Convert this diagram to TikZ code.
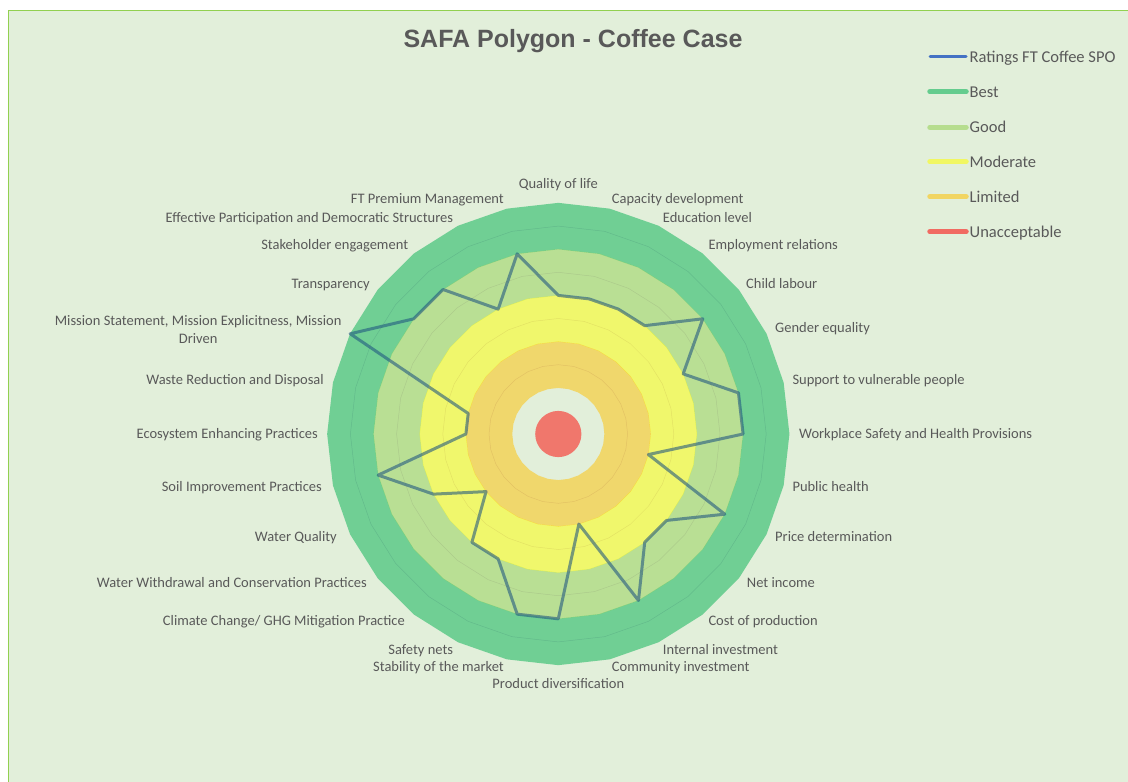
\documentclass[tikz,border=0pt]{standalone}
\usepackage{fontspec}
\setmainfont{Carlito}
\newfontfamily\titlefont{Liberation Sans}
\definecolor{bgc}{HTML}{E2EFDA}
\definecolor{framec}{HTML}{92D050}
\definecolor{txt}{HTML}{595959}
\definecolor{cBest}{HTML}{00B050}
\definecolor{cGood}{HTML}{92D050}
\definecolor{cMod}{HTML}{FFFF00}
\definecolor{cLim}{HTML}{FFC000}
\definecolor{cUnac}{HTML}{FF0000}
\definecolor{cRate}{HTML}{4472C4}
\definecolor{cLine}{HTML}{1F5580}
\tikzset{
  lbl/.style={font=\fontsize{14.5}{18}\selectfont, text=txt, inner sep=0pt},
  lblr/.style={lbl, anchor=base west},
  lbll/.style={lbl, anchor=base east},
  lblc/.style={lbl, anchor=base},
  leglbl/.style={font=\fontsize{16.5}{20}\selectfont, text=txt, inner sep=0pt, anchor=base west},
  band/.style={line width=46.2pt, opacity=0.5, line join=miter},
  gridl/.style={draw=black!22, line width=0.5pt},
  dataline/.style={draw=cLine, line width=3pt, opacity=0.58, line join=round},
  legline/.style={line width=5.5pt, line cap=round, opacity=0.55},
}
\begin{document}
\begin{tikzpicture}[x=1pt,y=-1pt]
\useasboundingbox (0,0) rectangle (1128,782);
\fill[white] (0,0) rectangle (1128,782);
\fill[bgc] (8.5,10.5) rectangle (1140,790);
\draw[framec, line width=1.6pt] (8.5,790) -- (8.5,10.5) -- (1140,10.5);
\def\cx{558.3}
\def\cy{434}
\def\u{46.2}
% grid
\foreach \r in {1.5,2.5,3.5,4.5}{
  \draw[gridl] ({\cx},{\cy-\r*\u}) \foreach \i in {1,...,27}{ -- ({\cx+\r*\u*sin(\i*360/28)},{\cy-\r*\u*cos(\i*360/28)}) } -- cycle;
}
% bands
\foreach \r/\c in {4.5/cBest,3.5/cGood,2.5/cMod,1.5/cLim}{
  \draw[band, draw=\c] ({\cx},{\cy-\r*\u}) \foreach \i in {1,...,27}{ -- ({\cx+\r*\u*sin(\i*360/28)},{\cy-\r*\u*cos(\i*360/28)}) } -- cycle;
}
\fill[cUnac, opacity=0.5] (\cx,\cy) circle (23.1);
% data
\foreach \v [count=\i from 0] in {3,3,3,3,4,3,4,4,2,4,3,3,4,2,4,4,3,3,2,3,4,2,2,5,4,4,3,4}{
  \coordinate (d\i) at ({\cx+\v*\u*sin(\i*360/28)},{\cy-\v*\u*cos(\i*360/28)});
}
\draw[dataline] (d0) \foreach \i in {1,...,27}{ -- (d\i) } -- cycle;
% title
\node[font=\titlefont\bfseries\fontsize{25}{30}\selectfont, text=txt, anchor=base] (title) at (573,47) {SAFA Polygon - Coffee Case};
% labels
\node[lblc] (l0) at (558.3,188) {Quality of life};
\node[lblr] (l1) at (611.7,203.3) {Capacity development};
\node[lblr] (l2) at (662.7,222.3) {Education level};
\node[lblr] (l3) at (708.3,249.3) {Employment relations};
\node[lblr] (l4) at (746,288.3) {Child labour};
\node[lblr] (l5) at (775,332.3) {Gender equality};
\node[lblr] (l6) at (792.3,384.3) {Support to vulnerable people};
\node[lblr] (l7) at (799,438) {Workplace Safety and Health Provisions};
\node[lblr] (l8) at (792.3,491.7) {Public health};
\node[lblr] (l9) at (775,541.7) {Price determination};
\node[lblr] (l10) at (746.7,587.7) {Net income};
\node[lblr] (l11) at (708.3,625.7) {Cost of production};
\node[lblr] (l12) at (662.7,654) {Internal investment};
\node[lblr] (l13) at (611.7,671.7) {Community investment};
\node[lblc] (l14) at (558.3,688) {Product diversification};
\node[lbll] (l15) at (504,671.7) {Stability of the market};
\node[lbll] (l16) at (453.3,654) {Safety nets};
\node[lbll] (l17) at (405,625.7) {Climate Change/ GHG Mitigation Practice};
\node[lbll] (l18) at (367,587.7) {Water Withdrawal and Conservation Practices};
\node[lbll] (l19) at (337,541.7) {Water Quality};
\node[lbll] (l20) at (322,491.7) {Soil Improvement Practices};
\node[lbll] (l21) at (318,438) {Ecosystem Enhancing Practices};
\node[lbll] (l22) at (324,384.3) {Waste Reduction and Disposal};
\node[lbl, anchor=east, align=center] (l23) at (341.7,329.5) {Mission Statement, Mission Explicitness, Mission\\Driven};
\node[lbll] (l24) at (370,288.5) {Transparency};
\node[lbll] (l25) at (408.3,249.3) {Stakeholder engagement};
\node[lbll] (l26) at (453.3,222.3) {Effective Participation and Democratic Structures};
\node[lbll] (l27) at (504,203.3) {FT Premium Management};
% legend
\foreach \y/\c/\t [count=\k] in {91.7/cBest/Best,127.3/cGood/Good,161.7/cMod/Moderate,196.7/cLim/Limited,231.7/cUnac/Unacceptable}{
  \coordinate (ls\k) at (930,\y);
  \coordinate (le\k) at (966,\y);
  \draw[legline, draw=\c] (ls\k) -- (le\k);
  \node[leglbl] (lt\k) at (969.5,\y+5.5) {\t};
}
\coordinate (ls0) at (930,56.7);
\coordinate (le0) at (966,56.7);
\draw[line width=3pt, line cap=round, draw=cRate] (ls0) -- (le0);
\node[leglbl] (lt0) at (969.5,62.2) {Ratings FT Coffee SPO};
\end{tikzpicture}
\end{document}
